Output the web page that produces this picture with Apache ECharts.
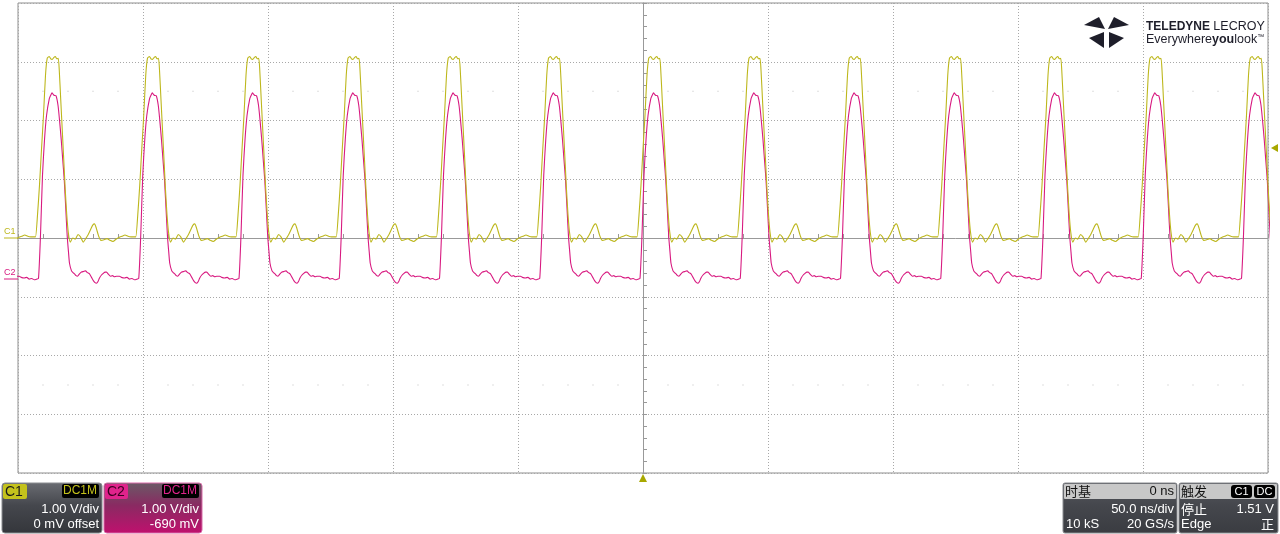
<!DOCTYPE html>
<html>
<head>
<meta charset="utf-8">
<script src="https://cdn.jsdelivr.net/npm/echarts@6/dist/echarts.min.js"></script>
<style>
  html, body { margin: 0; padding: 0; background: #fff; }
  #scope { width: 1280px; height: 534px; }
</style>
</head>
<body>
<div id="scope"></div>
<script>
// timebase 50 ns/div, 10 divisions; 1 V/div, 8 divisions
var TIME_MIN = -250, TIME_MAX = 250, TIME_DIV = 50;
var VOLT_MIN = -4, VOLT_MAX = 4;
var PERIOD = 40.1;               // ns, read from pulse spacing
var PULSE_INDEX = [-7, -6, -5, -4, -3, -2, -1, 0, 1, 2, 3, 4, 5, 6, 7];
var C2_OFFSET = -0.69;           // V

// one period of C1 (ns from trigger crossing, volts)
var c1Time = [-2.4, -1.6, -0.8, 0, 0.8, 1.6, 2.3, 3.1, 3.7, 4.3, 4.9, 5.5, 6.1, 6.7, 7.1, 7.7, 8.3, 8.9, 9.5, 10.1, 10.7, 11.5,
  12.5, 13.5, 14.6, 15.6, 16.7, 17.7, 18.7, 19.7, 20.5, 21.2, 21.9, 22.8, 23.8, 25.0, 26.2, 27.4, 28.6, 29.8, 31.0, 32.2,
  33.4, 34.6, 35.8, 37.0];
var c1Volt = [0.02, 0.39, 0.90, 1.51, 2.09, 2.77, 3.06, 3.09, 3.05, 3.04, 3.07, 3.09, 3.05, 3.06, 2.86, 2.35, 1.84, 1.33, 0.82, 0.40, 0.10, -0.07,
  0.00, -0.02, 0.06, 0.02, -0.07, -0.01, 0.06, 0.15, 0.22, 0.24, 0.17, 0.04, -0.04, -0.03, -0.01, -0.04, -0.06, -0.02, 0.01, 0.03,
  0.05, 0.03, 0.02, 0.02];

// one period of C2 (ns from trigger crossing, volts before offset)
var c2Time = [-1.2, -0.4, 0.4, 1.2, 2.0, 3.1, 3.8, 4.2, 4.6, 5.0, 5.8, 6.6, 7.2, 7.9, 8.5, 9.1, 9.7, 10.3, 10.8, 11.2, 12.0, 12.6,
  13.2, 13.8, 14.4, 15.2, 16.0, 16.8, 17.6, 18.4, 19.2, 20.0, 20.8, 21.4, 22.0, 22.6, 23.2, 24.0, 24.8, 25.4, 26.0, 26.8, 27.6,
  28.4, 29.2, 30.0, 31.2, 32.0, 33.2, 34.2, 35.2, 36.2, 37.2, 38.2];
var c2Volt = [0.00, 0.74, 1.76, 2.36, 2.77, 3.06, 3.13, 3.16, 3.14, 3.12, 3.11, 2.95, 2.70, 2.36, 2.02, 1.68, 1.20, 0.71, 0.45, 0.26, 0.13, 0.10,
  0.08, 0.05, 0.04, 0.08, 0.11, 0.12, 0.13, 0.10, 0.08, 0.02, -0.04, -0.07, -0.08, -0.05, 0.01, 0.06, 0.09, 0.11, 0.11, 0.07, 0.04,
  0.05, 0.03, 0.04, 0.04, 0.02, 0.01, 0.02, -0.01, 0.00, -0.02, -0.01];

// faint grid dots at +/-2.5 div
var dotRows = [2.5, -2.5];
var dotTimes = [-240, -230, -220, -210, -190, -180, -170, -160, -140, -130, -120, -110, -90, -80, -70, -60, -40, -30, -20, -10,
  10, 20, 30, 40, 60, 70, 80, 90, 110, 120, 130, 140, 160, 170, 180, 190, 210, 220, 230, 240];

var YELLOW = '#bdb71c';
var MAGENTA = '#d81a80';

function buildTrace(times, volts, offset) {
  var out = [];
  PULSE_INDEX.forEach(function (k) {
    for (var i = 0; i < times.length; i++) {
      var t = k * PERIOD + times[i];
      if (t < TIME_MIN - 45 || t > TIME_MAX + 45) continue;
      out.push([t, volts[i] + offset]);
    }
  });
  return out;
}

var c1Data = buildTrace(c1Time, c1Volt, 0);
var c2Data = buildTrace(c2Time, c2Volt, C2_OFFSET);
var dotData = [];
dotRows.forEach(function (v) { dotTimes.forEach(function (t) { dotData.push([t, v]); }); });

var myChart = echarts.init(document.getElementById('scope'));

var F = '"Liberation Sans", Arial, sans-serif';
var FC = '"Noto Sans CJK SC", "Liberation Sans", sans-serif';
var LOGO = '#1e1e2a';

function txt(x, y, s, color, size, align, font) {
  return { type: 'text', x: x, y: y, z: 20, style: { text: s, fill: color, font: (size || 13) + 'px ' + (font || F), textAlign: align || 'left', textVerticalAlign: 'middle' } };
}
function box(x, y, w, h, fill, r, stroke) {
  return { type: 'rect', z: 10, shape: { x: x, y: y, width: w, height: h, r: r || 0 }, style: { fill: fill, stroke: stroke || null, lineWidth: stroke ? 1 : 0 } };
}
function grad(c0, c1, c2) {
  return new echarts.graphic.LinearGradient(0, 0, 0, 1, [{ offset: 0, color: c0 }, { offset: 0.45, color: c1 }, { offset: 1, color: c2 }]);
}
function blade(pts) {
  return { type: 'polygon', z: 20, shape: { points: pts }, style: { fill: LOGO } };
}

var graphics = [
  // channel markers on the left
  txt(4, 232, 'C1', YELLOW, 9),
  { type: 'line', z: 20, shape: { x1: 4, y1: 238, x2: 18, y2: 238 }, style: { stroke: YELLOW, lineWidth: 1 } },
  txt(4, 273, 'C2', MAGENTA, 9),
  { type: 'line', z: 20, shape: { x1: 4, y1: 279, x2: 18, y2: 279 }, style: { stroke: MAGENTA, lineWidth: 1 } },
  // trigger level and trigger position markers
  { type: 'polygon', z: 20, shape: { points: [[1271, 148], [1278, 144], [1278, 152]] }, style: { fill: '#a8a800' } },
  { type: 'polygon', z: 20, shape: { points: [[643, 474], [639, 482], [647, 482]] }, style: { fill: '#a8a800' } },

  // logo
  blade([[1084, 25], [1099, 17], [1105, 29]]),
  blade([[1129, 25], [1114, 17], [1108, 29]]),
  blade([[1089, 38], [1104, 32], [1104, 48]]),
  blade([[1124, 38], [1109, 32], [1109, 48]]),
  { type: 'text', x: 1146, y: 27, z: 20, style: { text: '{b|TELEDYNE} {a|LECROY}', textVerticalAlign: 'middle',
    rich: { b: { fill: LOGO, font: 'bold 12px "Liberation Sans", sans-serif' }, a: { fill: LOGO, font: '12.5px "Liberation Sans", sans-serif' } } } },
  { type: 'text', x: 1146, y: 40, z: 20, style: { text: '{a|Everywhere}{b|you}{a|look}{c|™}', textVerticalAlign: 'middle',
    rich: { a: { fill: LOGO, font: '12.5px "Liberation Sans", sans-serif' }, b: { fill: LOGO, font: 'bold 12.5px "Liberation Sans", sans-serif' }, c: { fill: LOGO, font: '7px "Liberation Sans", sans-serif', verticalAlign: 'top' } } } },

  // C1 descriptor
  box(2, 483, 100, 50, grad('#6a6c72', '#45474d', '#34363b'), 3, '#8a8c90'),
  box(3, 484, 24, 15, '#c4c21c', 2),
  txt(5, 492, 'C1', '#1a1a1a', 14),
  box(62, 484, 37, 14, '#000', 2),
  txt(97, 491, 'DC1M', '#c4c21c', 12, 'right'),
  txt(99, 509, '1.00 V/div', '#fff', 13, 'right'),
  txt(99, 524, '0 mV offset', '#fff', 13, 'right'),

  // C2 descriptor
  box(104, 483, 98, 50, grad('#6a5a66', '#8a2a62', '#c0106e'), 3, '#d86aa8'),
  box(105, 484, 23, 15, '#e0238c', 2),
  txt(107, 492, 'C2', '#3a0020', 14),
  box(162, 484, 37, 14, '#000', 2),
  txt(197, 491, 'DC1M', '#e0238c', 12, 'right'),
  txt(199, 509, '1.00 V/div', '#fff', 13, 'right'),
  txt(199, 524, '-690 mV', '#fff', 13, 'right'),

  // timebase descriptor
  box(1063, 483, 114, 50, grad('#55575d', '#45474d', '#3a3c41'), 2, '#8a8c90'),
  box(1064, 484, 112, 15, '#c8c8c8', 1),
  txt(1065, 491, '时基', '#111', 13, 'left', FC),
  txt(1174, 491, '0 ns', '#111', 13, 'right'),
  txt(1174, 509, '50.0 ns/div', '#fff', 13, 'right'),
  txt(1066, 524, '10 kS', '#fff', 13, 'left'),
  txt(1174, 524, '20 GS/s', '#fff', 13, 'right'),

  // trigger descriptor
  box(1179, 483, 99, 50, grad('#55575d', '#45474d', '#3a3c41'), 2, '#8a8c90'),
  box(1180, 484, 97, 15, '#c8c8c8', 1),
  txt(1181, 491, '触发', '#111', 13, 'left', FC),
  box(1231, 485, 21, 13, '#000', 3),
  txt(1241.5, 491.5, 'C1', '#fff', 11, 'center'),
  box(1254, 485, 21, 13, '#000', 3),
  txt(1264.5, 491.5, 'DC', '#fff', 11, 'center'),
  txt(1181, 509, '停止', '#fff', 13, 'left', FC),
  txt(1274, 509, '1.51 V', '#fff', 13, 'right'),
  txt(1181, 524, 'Edge', '#fff', 13, 'left'),
  txt(1274, 524, '正', '#fff', 13, 'right', FC)
];

var axisGray = '#999999';

var option = {
  animation: false,
  backgroundColor: '#ffffff',
  grid: { left: 18, right: 12, top: 3, bottom: 61, show: true, borderColor: '#8e8e8e', borderWidth: 1, backgroundColor: '#ffffff' },
  xAxis: {
    type: 'value', min: TIME_MIN, max: TIME_MAX, interval: TIME_DIV,
    axisLabel: { show: false },
    axisLine: { show: true, onZero: true, lineStyle: { color: axisGray, width: 1 } },
    axisTick: { show: true, inside: true, length: 4, lineStyle: { color: axisGray } },
    minorTick: { show: true, splitNumber: 5, length: 4, lineStyle: { color: axisGray } },
    splitLine: { show: true, lineStyle: { color: '#a8a8a8', type: [1, 2], width: 1 } }
  },
  yAxis: {
    type: 'value', min: VOLT_MIN, max: VOLT_MAX, interval: 1,
    axisLabel: { show: false },
    axisLine: { show: true, onZero: true, lineStyle: { color: axisGray, width: 1 } },
    axisTick: { show: true, inside: true, length: 4, lineStyle: { color: axisGray } },
    minorTick: { show: true, splitNumber: 5, length: 4, lineStyle: { color: axisGray } },
    splitLine: { show: true, lineStyle: { color: '#a8a8a8', type: [1, 2], width: 1 } }
  },
  series: [
    { name: 'dots', type: 'scatter', data: dotData, symbol: 'rect', symbolSize: 1, itemStyle: { color: '#b0b0b0' }, silent: true },
    { name: 'C2', type: 'line', data: c2Data, showSymbol: false, smooth: 0.2, clip: true, lineStyle: { color: MAGENTA, width: 1.1 }, z: 3 },
    { name: 'C1', type: 'line', data: c1Data, showSymbol: false, smooth: 0.2, clip: true, lineStyle: { color: YELLOW, width: 1.1 }, z: 4 }
  ],
  graphic: graphics
};

myChart.setOption(option);
window.addEventListener('resize', function () { myChart.resize(); });
</script>
</body>
</html>
